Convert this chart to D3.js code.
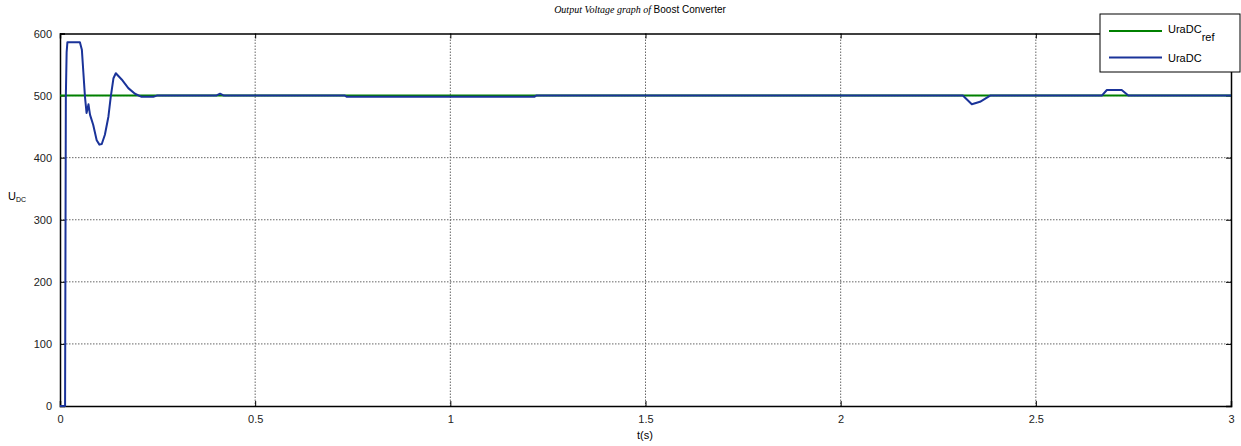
<!DOCTYPE html>
<html>
<head>
<meta charset="utf-8">
<script src="https://cdn.jsdelivr.net/npm/d3@7"></script>
<style>
  body { margin: 0; background: #fff; }
  text { font-family: "Liberation Sans", Arial, sans-serif; }
</style>
</head>
<body>
<svg id="chart"></svg>
<script>
// reference signal
let refTime = [0, 3];
let refVolt = [500, 500];

// measured output voltage
let outTime = [0, 0.013, 0.015, 0.017, 0.019, 0.051, 0.056, 0.060, 0.064, 0.068, 0.071, 0.073, 0.075, 0.077, 0.085,
  0.094, 0.101, 0.107, 0.115, 0.124, 0.130, 0.137, 0.143, 0.158, 0.175, 0.192, 0.209, 0.239, 0.248,
  0.40, 0.41, 0.42, 0.73, 0.735, 1.215, 1.22, 2.313, 2.336, 2.357, 2.383, 2.669, 2.682, 2.72, 2.737, 3];
let outVolt = [0, 0, 500, 570, 586, 586, 574, 536, 498, 472, 480, 486, 477, 469, 453,
  428, 421, 422, 437, 466, 498, 528, 536, 526, 512, 503, 498, 498, 500,
  500, 503, 500, 500, 498, 498, 500, 500, 486, 490, 500, 500, 509, 509, 500, 500];

let xTicks = [0, 0.5, 1, 1.5, 2, 2.5, 3];
let yTicks = [0, 100, 200, 300, 400, 500, 600];

let W = 1241, H = 446;
let margin = {top: 33.5, right: 10, bottom: 40, left: 60};
let width = 1231 - margin.left, height = 406 - margin.top;

let svg = d3.select("#chart").attr("width", W).attr("height", H);
let g = svg.append("g").attr("transform", "translate(" + margin.left + "," + margin.top + ")");

let x = d3.scaleLinear().domain([0, 3]).range([0, width]);
let y = d3.scaleLinear().domain([0, 600]).range([height, 0]);

// grid
g.append("g").selectAll("line").data(xTicks.slice(1, -1)).join("line")
  .attr("x1", d => x(d)).attr("x2", d => x(d)).attr("y1", 0).attr("y2", height)
  .attr("stroke", "#666").attr("stroke-width", 1).attr("stroke-dasharray", "1.5,1.5");
g.append("g").selectAll("line").data(yTicks.slice(1, -1)).join("line")
  .attr("y1", d => y(d)).attr("y2", d => y(d)).attr("x1", 0).attr("x2", width)
  .attr("stroke", "#666").attr("stroke-width", 1).attr("stroke-dasharray", "1.5,1.5");

// axes (ticks inward)
g.append("g").attr("transform", "translate(0," + height + ")")
  .call(d3.axisBottom(x).tickValues(xTicks).tickSize(-5).tickPadding(9).tickFormat(d3.format("")));
g.append("g")
  .call(d3.axisLeft(y).tickValues(yTicks).tickSize(-5).tickPadding(8));
g.append("g").attr("transform", "translate(" + width + ",0)")
  .call(d3.axisRight(y).tickValues(yTicks).tickSize(-5).tickFormat(""));
g.append("g")
  .call(d3.axisTop(x).tickValues(xTicks).tickSize(-5).tickFormat(""));
g.selectAll(".domain").attr("stroke", "#000").attr("stroke-width", 1.5);
g.selectAll(".tick line").attr("stroke", "#000");
g.selectAll(".tick text").attr("font-size", 11).attr("fill", "#222")
  .attr("font-family", "Liberation Sans, Arial, sans-serif");

// lines
let line = d3.line().x(d => x(d[0])).y(d => y(d[1]));
g.append("path").datum(d3.zip(refTime, refVolt)).attr("d", line)
  .attr("fill", "none").attr("stroke", "#008000").attr("stroke-width", 2);
g.append("path").datum(d3.zip(outTime, outVolt)).attr("d", line)
  .attr("fill", "none").attr("stroke", "#1a3399").attr("stroke-width", 2)
  .attr("stroke-linejoin", "round");

// title
let title = svg.append("text").attr("x", 640).attr("y", 13).attr("text-anchor", "middle").attr("font-size", 10);
title.append("tspan").attr("font-family", "Liberation Serif, Times New Roman, serif").attr("font-style", "italic")
  .text("Output Voltage graph of ");
title.append("tspan").text("Boost Converter");

// axis labels
svg.append("text").attr("x", 645).attr("y", 439).attr("text-anchor", "middle").attr("font-size", 11).text("t(s)");
let yl = svg.append("text").attr("x", 8).attr("y", 200).attr("font-size", 11);
yl.append("tspan").text("U");
yl.append("tspan").attr("font-size", 7).attr("dy", 2).text("DC");

// legend
let lg = svg.append("g");
lg.append("rect").attr("x", 1100).attr("y", 14).attr("width", 140).attr("height", 58)
  .attr("fill", "#fff").attr("stroke", "#000").attr("stroke-width", 1);
lg.append("line").attr("x1", 1109).attr("x2", 1162).attr("y1", 31).attr("y2", 31)
  .attr("stroke", "#008000").attr("stroke-width", 2);
lg.append("line").attr("x1", 1109).attr("x2", 1162).attr("y1", 57.5).attr("y2", 57.5)
  .attr("stroke", "#1a3399").attr("stroke-width", 2);
let t1 = lg.append("text").attr("x", 1168).attr("y", 33).attr("font-size", 11);
t1.append("tspan").text("UraDC");
t1.append("tspan").attr("dy", 8).text("ref");
lg.append("text").attr("x", 1168).attr("y", 62).attr("font-size", 11).text("UraDC");
</script>
</body>
</html>
